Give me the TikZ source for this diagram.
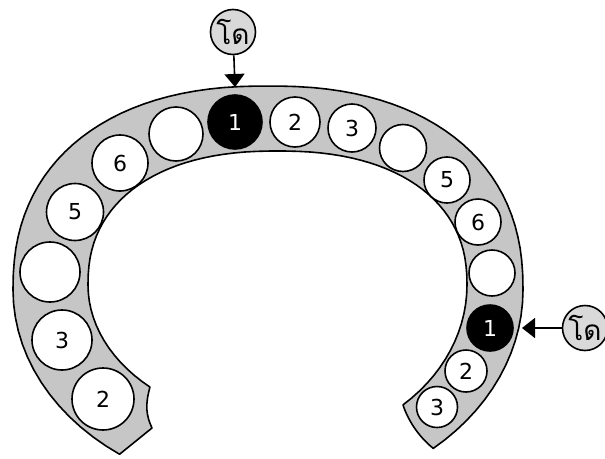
\documentclass[tikz,border=0pt]{standalone}
\usepackage{fontspec}
\setmainfont{DejaVu Sans}
\newfontfamily\thaifont[Script=Thai]{Loma}
\usepackage{xcolor}
\usetikzlibrary{arrows.meta}

\tikzset{
  band/.style={fill=gray!45, draw=black, line width=1.6pt, line join=round},
  hole/.style={circle, draw=black, line width=1.6pt, fill=white, inner sep=0pt,
               font=\fontsize{22}{26}\selectfont},
  hit/.style={hole, fill=black, text=white},
  tag/.style={circle, draw=black, line width=1.6pt, fill=gray!30, minimum size=45pt,
              inner sep=0pt, font=\thaifont\fontsize{28}{32}\selectfont},
  pointer/.style={line width=1.6pt, -{Triangle[width=20pt,length=13pt]}}
}

\begin{document}
\begin{tikzpicture}[x=1pt,y=-1pt]
\useasboundingbox (0,0) rectangle (605,458);
% the horseshoe: plain ellipse below, squarer curve on top
\filldraw[band]
  plot[domain=234.4:180, samples=15, variable=\t] ({268+255*cos(\t)}, {290-202*sin(\t)})
  -- plot[domain=179.9:0.1, samples=60, variable=\t]
     ({268+255*sign(cos(\t))*abs(cos(\t))^0.87}, {290-204*abs(sin(\t))^0.87})
  -- plot[domain=0:-49.6, samples=15, variable=\t] ({268+255*cos(\t)}, {290-208*sin(\t)})
  .. controls (418,436) and (408,420) .. (403,405)
  -- plot[domain=-48.5:0, samples=15, variable=\t] ({277.5+189.5*cos(\t)}, {285-160*sin(\t)})
  -- plot[domain=0.1:179.9, samples=60, variable=\t]
     ({277.5+189.5*sign(cos(\t))*abs(cos(\t))^0.87}, {285-134*abs(sin(\t))^0.87})
  -- plot[domain=180:227.7, samples=15, variable=\t] ({277.5+189.5*cos(\t)}, {285-138*sin(\t)})
  .. controls (145,405) and (146,415) .. (152,428) -- cycle;
% holes
\foreach \x/\y/\d/\t [count=\i] in {103/399/62/2, 62/340/60/3, 50/272/60/{}, 75/212/57/5,
    120/163/56/6, 176/134/54/{}, 295/122/50/2, 352/128/48/3, 403/148/47/{},
    447/180/46/5, 478/222/46/6, 492/273/46/{}, 466/371/42/2, 437/407/41/3}{
  \node[hole, minimum size=\d pt] (h\i) at (\x,\y) {\t};
}
\node[hit, minimum size=54pt] (dotop) at (235,122) {1};
\node[hit, minimum size=46pt] (doright) at (490,328) {1};
% pointers
\node[tag] (tagtop) at (233,32) {โด};
\node[tag] (tagright) at (585,328) {โด};
\coordinate (edgetop) at (235,87);
\coordinate (edgeright) at (522,328);
\draw[pointer] (tagtop) -- (edgetop);
\draw[pointer] (tagright) -- (edgeright);
\end{tikzpicture}
\end{document}
